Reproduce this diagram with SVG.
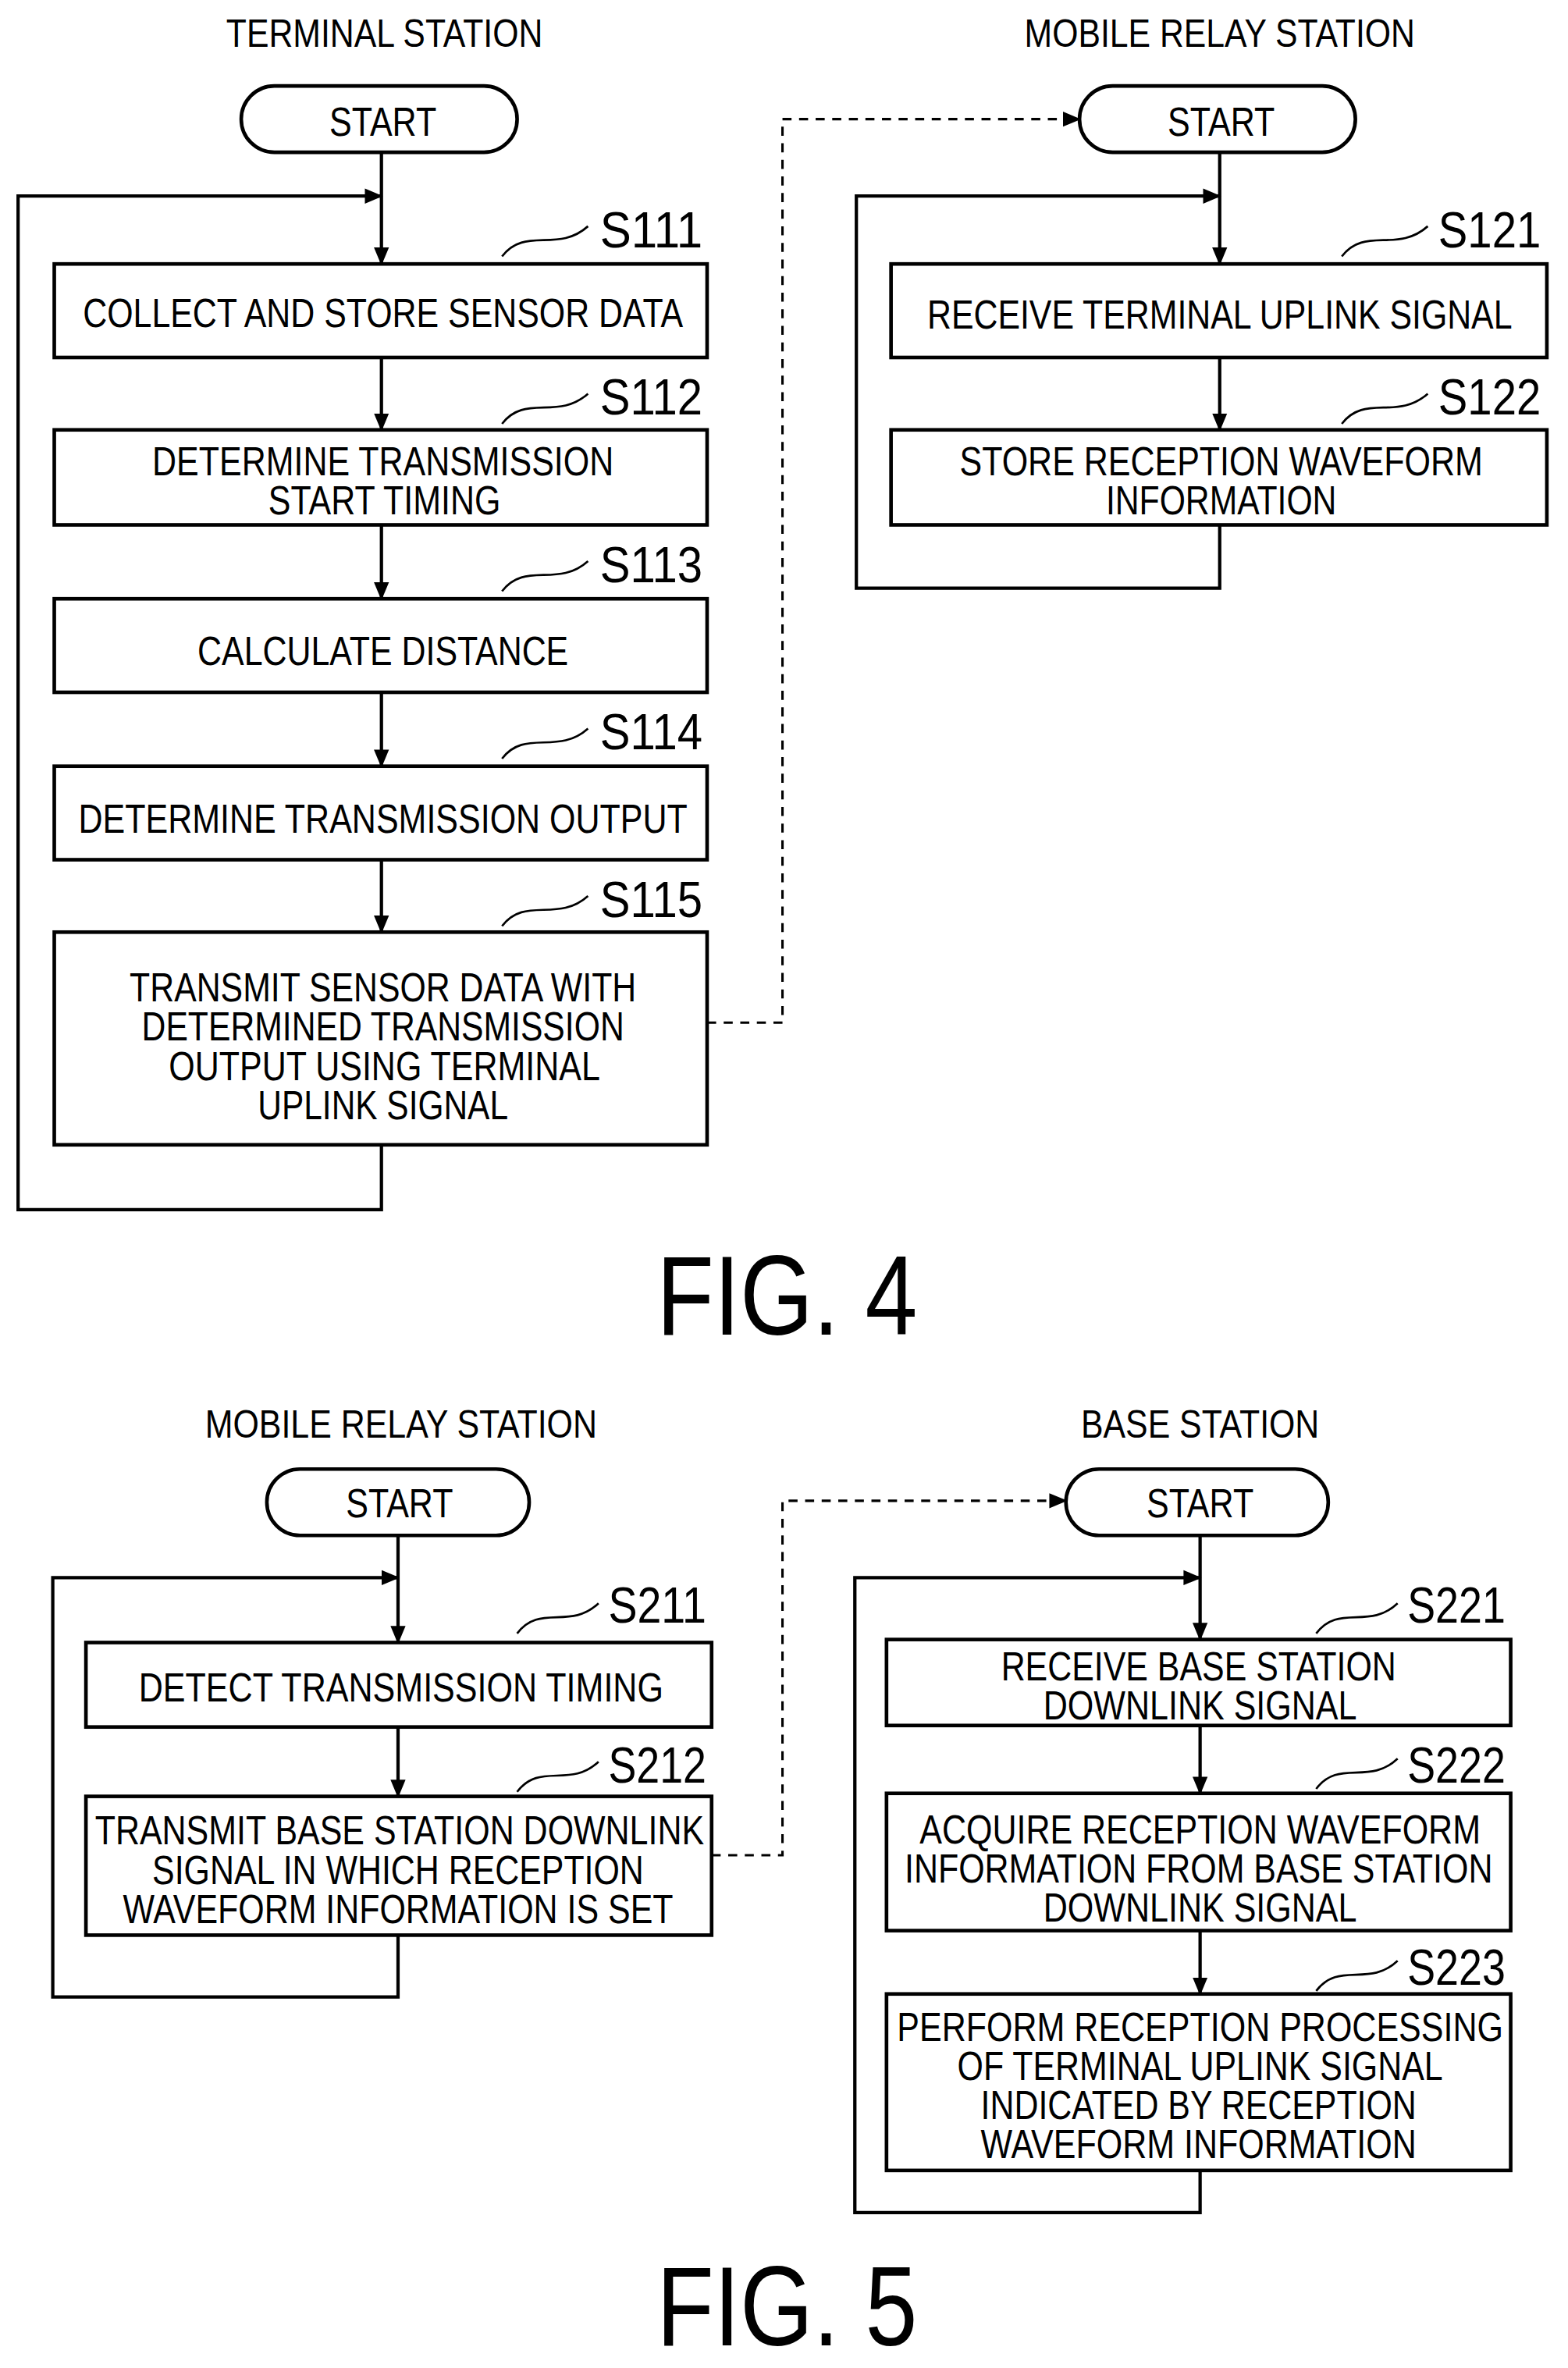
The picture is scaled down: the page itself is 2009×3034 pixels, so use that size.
<svg xmlns="http://www.w3.org/2000/svg" width="2009" height="3034" viewBox="0 0 2009 3034">
<style>
.b{fill:#fff;stroke:#000;stroke-width:2.4}
.l{fill:none;stroke:#000;stroke-width:2.2}
.d{fill:none;stroke:#000;stroke-width:1.6;stroke-dasharray:6 5}
.w{fill:none;stroke:#000;stroke-width:1.4}
text{font-family:"Liberation Sans",Arial,sans-serif;fill:#000;text-anchor:middle}
.t{font-size:27px}
.s{font-size:34px}
.h{font-size:26px}
.f{font-size:75px}
</style>
<defs>
<marker id="a" markerUnits="userSpaceOnUse" markerWidth="12" markerHeight="12" refX="11" refY="6" orient="auto"><path d="M0,1 L12,6 L0,11 Z" fill="#000"/></marker>
</defs>
<rect width="2009" height="3034" fill="#fff"/>
<g transform="scale(1.9317,1.9325)">
<g id="connectors">
<path class="l" d="M253,101 V175" marker-end="url(#a)"/>
<path class="l" d="M253,237 V285" marker-end="url(#a)"/>
<path class="l" d="M253,348 V397" marker-end="url(#a)"/>
<path class="l" d="M253,459 V508" marker-end="url(#a)"/>
<path class="l" d="M253,570 V618" marker-end="url(#a)"/>
<path class="l" d="M253,759 V802 H12 V130 H253" marker-end="url(#a)"/>
<path class="d" d="M469,678 H519 V79 H716" marker-end="url(#a)"/>
<path class="l" d="M809,101 V175" marker-end="url(#a)"/>
<path class="l" d="M809,237 V285" marker-end="url(#a)"/>
<path class="l" d="M809,348 V390 H568 V130 H809" marker-end="url(#a)"/>
<path class="l" d="M264,1018 V1089" marker-end="url(#a)"/>
<path class="l" d="M264,1145 V1191" marker-end="url(#a)"/>
<path class="l" d="M264,1283 V1324 H35 V1046 H264" marker-end="url(#a)"/>
<path class="d" d="M472,1230 H519 V995 H707" marker-end="url(#a)"/>
<path class="l" d="M796,1018 V1087" marker-end="url(#a)"/>
<path class="l" d="M796,1144 V1189" marker-end="url(#a)"/>
<path class="l" d="M796,1280 V1322" marker-end="url(#a)"/>
<path class="l" d="M796,1439 V1467 H567 V1046 H796" marker-end="url(#a)"/>
</g>
<g id="titles">
<text class="h" x="255" y="31" textLength="210" lengthAdjust="spacingAndGlyphs">TERMINAL STATION</text>
<text class="h" x="809" y="31" textLength="259" lengthAdjust="spacingAndGlyphs">MOBILE RELAY STATION</text>
<text class="h" x="266" y="953" textLength="260" lengthAdjust="spacingAndGlyphs">MOBILE RELAY STATION</text>
<text class="h" x="796" y="953" textLength="158" lengthAdjust="spacingAndGlyphs">BASE STATION</text>
<text class="f" x="522" y="885" textLength="173" lengthAdjust="spacingAndGlyphs">FIG. 4</text>
<text class="f" x="522" y="1555" textLength="173" lengthAdjust="spacingAndGlyphs">FIG. 5</text>
</g>
<g id="start1"><rect class="b" x="160" y="57" width="183" height="44" rx="22"/><text class="t" x="254" y="90" textLength="71" lengthAdjust="spacingAndGlyphs">START</text></g>
<g id="start2"><rect class="b" x="716" y="57" width="183" height="44" rx="22"/><text class="t" x="810" y="90" textLength="71" lengthAdjust="spacingAndGlyphs">START</text></g>
<g id="start3"><rect class="b" x="177" y="974" width="174" height="44" rx="22"/><text class="t" x="265" y="1006" textLength="71" lengthAdjust="spacingAndGlyphs">START</text></g>
<g id="start4"><rect class="b" x="707" y="974" width="174" height="44" rx="22"/><text class="t" x="796" y="1006" textLength="71" lengthAdjust="spacingAndGlyphs">START</text></g>
<g id="S111"><rect class="b" x="36" y="175" width="433" height="62"/><text class="t" x="254" y="217" textLength="398" lengthAdjust="spacingAndGlyphs">COLLECT AND STORE SENSOR DATA</text>
<path class="w" d="M333,170 C348,150 370,168 390,150"/><text class="s" x="432" y="164" textLength="68" lengthAdjust="spacingAndGlyphs">S111</text></g>
<g id="S112"><rect class="b" x="36" y="285" width="433" height="63"/><text class="t" x="254" y="315" textLength="306" lengthAdjust="spacingAndGlyphs">DETERMINE TRANSMISSION</text><text class="t" x="255" y="341" textLength="154" lengthAdjust="spacingAndGlyphs">START TIMING</text>
<path class="w" d="M333,281 C348,261 370,279 390,261"/><text class="s" x="432" y="275" textLength="68" lengthAdjust="spacingAndGlyphs">S112</text></g>
<g id="S113"><rect class="b" x="36" y="397" width="433" height="62"/><text class="t" x="254" y="441" textLength="246" lengthAdjust="spacingAndGlyphs">CALCULATE DISTANCE</text>
<path class="w" d="M333,392 C348,372 370,390 390,372"/><text class="s" x="432" y="386" textLength="68" lengthAdjust="spacingAndGlyphs">S113</text></g>
<g id="S114"><rect class="b" x="36" y="508" width="433" height="62"/><text class="t" x="254" y="552" textLength="404" lengthAdjust="spacingAndGlyphs">DETERMINE TRANSMISSION OUTPUT</text>
<path class="w" d="M333,503 C348,483 370,501 390,483"/><text class="s" x="432" y="497" textLength="68" lengthAdjust="spacingAndGlyphs">S114</text></g>
<g id="S115"><rect class="b" x="36" y="618" width="433" height="141"/>
<text class="t" x="254" y="664" textLength="336" lengthAdjust="spacingAndGlyphs">TRANSMIT SENSOR DATA WITH</text>
<text class="t" x="254" y="690" textLength="320" lengthAdjust="spacingAndGlyphs">DETERMINED TRANSMISSION</text>
<text class="t" x="255" y="716" textLength="286" lengthAdjust="spacingAndGlyphs">OUTPUT USING TERMINAL</text>
<text class="t" x="254" y="742" textLength="166" lengthAdjust="spacingAndGlyphs">UPLINK SIGNAL</text>
<path class="w" d="M333,614 C348,594 370,612 390,594"/><text class="s" x="432" y="608" textLength="68" lengthAdjust="spacingAndGlyphs">S115</text></g>
<g id="S121"><rect class="b" x="591" y="175" width="435" height="62"/><text class="t" x="809" y="218" textLength="388" lengthAdjust="spacingAndGlyphs">RECEIVE TERMINAL UPLINK SIGNAL</text>
<path class="w" d="M890,170 C905,150 927,168 947,150"/><text class="s" x="988" y="164" textLength="68" lengthAdjust="spacingAndGlyphs">S121</text></g>
<g id="S122"><rect class="b" x="591" y="285" width="435" height="63"/><text class="t" x="810" y="315" textLength="347" lengthAdjust="spacingAndGlyphs">STORE RECEPTION WAVEFORM</text><text class="t" x="810" y="341" textLength="153" lengthAdjust="spacingAndGlyphs">INFORMATION</text>
<path class="w" d="M890,281 C905,261 927,279 947,261"/><text class="s" x="988" y="275" textLength="68" lengthAdjust="spacingAndGlyphs">S122</text></g>
<g id="S211"><rect class="b" x="57" y="1089" width="415" height="56"/><text class="t" x="266" y="1128" textLength="348" lengthAdjust="spacingAndGlyphs">DETECT TRANSMISSION TIMING</text>
<path class="w" d="M343,1083 C358,1063 378,1081 397,1063"/><text class="s" x="436" y="1076" textLength="65" lengthAdjust="spacingAndGlyphs">S211</text></g>
<g id="S212"><rect class="b" x="57" y="1191" width="415" height="92"/>
<text class="t" x="265" y="1223" textLength="404" lengthAdjust="spacingAndGlyphs">TRANSMIT BASE STATION DOWNLINK</text>
<text class="t" x="264" y="1249" textLength="326" lengthAdjust="spacingAndGlyphs">SIGNAL IN WHICH RECEPTION</text>
<text class="t" x="264" y="1275" textLength="365" lengthAdjust="spacingAndGlyphs">WAVEFORM INFORMATION IS SET</text>
<path class="w" d="M343,1188 C358,1168 378,1186 397,1168"/><text class="s" x="436" y="1182" textLength="65" lengthAdjust="spacingAndGlyphs">S212</text></g>
<g id="S221"><rect class="b" x="588" y="1087" width="414" height="57"/>
<text class="t" x="795" y="1114" textLength="262" lengthAdjust="spacingAndGlyphs">RECEIVE BASE STATION</text>
<text class="t" x="796" y="1140" textLength="208" lengthAdjust="spacingAndGlyphs">DOWNLINK SIGNAL</text>
<path class="w" d="M873,1083 C888,1063 908,1081 927,1063"/><text class="s" x="966" y="1076" textLength="65" lengthAdjust="spacingAndGlyphs">S221</text></g>
<g id="S222"><rect class="b" x="588" y="1189" width="414" height="91"/>
<text class="t" x="796" y="1222" textLength="372" lengthAdjust="spacingAndGlyphs">ACQUIRE RECEPTION WAVEFORM</text>
<text class="t" x="795" y="1248" textLength="390" lengthAdjust="spacingAndGlyphs">INFORMATION FROM BASE STATION</text>
<text class="t" x="796" y="1274" textLength="208" lengthAdjust="spacingAndGlyphs">DOWNLINK SIGNAL</text>
<path class="w" d="M873,1186 C888,1166 908,1184 927,1166"/><text class="s" x="966" y="1182" textLength="65" lengthAdjust="spacingAndGlyphs">S222</text></g>
<g id="S223"><rect class="b" x="588" y="1322" width="414" height="117"/>
<text class="t" x="796" y="1353" textLength="402" lengthAdjust="spacingAndGlyphs">PERFORM RECEPTION PROCESSING</text>
<text class="t" x="796" y="1379" textLength="322" lengthAdjust="spacingAndGlyphs">OF TERMINAL UPLINK SIGNAL</text>
<text class="t" x="795" y="1405" textLength="289" lengthAdjust="spacingAndGlyphs">INDICATED BY RECEPTION</text>
<text class="t" x="795" y="1431" textLength="289" lengthAdjust="spacingAndGlyphs">WAVEFORM INFORMATION</text>
<path class="w" d="M873,1320 C888,1300 908,1318 927,1300"/><text class="s" x="966" y="1316" textLength="65" lengthAdjust="spacingAndGlyphs">S223</text></g>
</g>
</svg>
